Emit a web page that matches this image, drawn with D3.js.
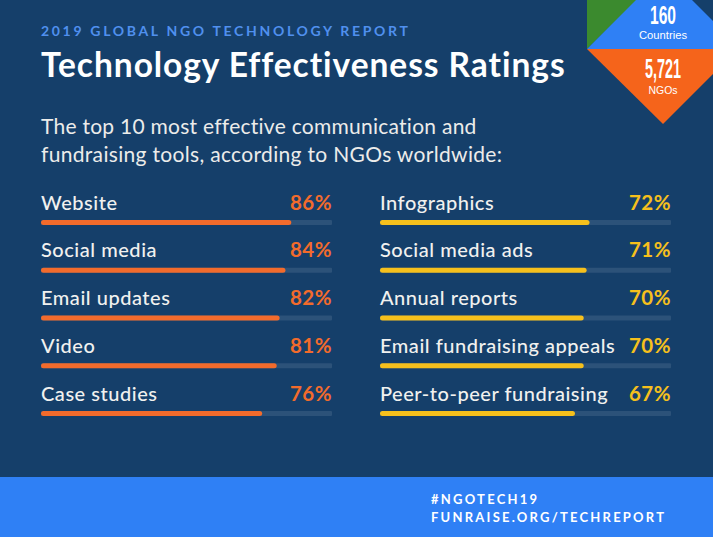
<!DOCTYPE html>
<html><head><meta charset="utf-8">
<script src="https://cdn.jsdelivr.net/npm/d3@7"></script>
<style>html,body{margin:0;padding:0;background:#153f6a}svg{display:block}text{font-family:Lato,sans-serif}</style>
</head><body><svg id="c" width="713" height="537"></svg>
<script>
const leftLabels=["Website","Social media","Email updates","Video","Case studies"];
const leftValues=[86,84,82,81,76];
const rightLabels=["Infographics","Social media ads","Annual reports","Email fundraising appeals","Peer-to-peer fundraising"];
const rightValues=[72,71,70,70,67];
const rowNames=[0,1,2,3,4];
const svg=d3.select("#c");
svg.append("rect").attr("width",713).attr("height",537).attr("fill","#153f6a");
const y=d3.scalePoint().domain(rowNames).range([222.5,413.5]);
function col(labels,values,x0,color,pctColor){
  const x=d3.scaleLinear().domain([0,100]).range([x0,x0+291]);
  const g=svg.append("g");
  rowNames.forEach(i=>{
    g.append("rect").attr("x",x(0)).attr("y",y(i)-2.5).attr("width",x(100)-x(0)).attr("height",5).attr("rx",1).attr("fill","#2c5279");
    g.append("rect").attr("x",x(0)).attr("y",y(i)-2.5).attr("width",x(values[i])-x(0)).attr("height",5).attr("rx",2.5).attr("fill",color);
    g.append("text").attr("x",x(0)).attr("y",y(i)-13).attr("font-size",20).attr("font-weight",500).attr("letter-spacing",0.53).attr("fill","#f1f1ef").text(labels[i]);
    g.append("text").attr("x",x(100)).attr("y",y(i)-13).attr("text-anchor","end").attr("font-size",20.5).attr("font-weight",700).attr("letter-spacing",0.5).attr("fill",pctColor).text(values[i]+"%");
  });
}
col(leftLabels,leftValues,41,"#f26b2c","#f26b2c");
col(rightLabels,rightValues,380,"#f6c01c","#f6c01c");
const t=(x,y,s,size,w,fill,ls)=>svg.append("text").attr("x",x).attr("y",y).attr("font-size",size).attr("font-weight",w).attr("fill",fill).attr("letter-spacing",ls).text(s);
t(41,36,"2019 GLOBAL NGO TECHNOLOGY REPORT",14,700,"#5090ee",2.68);
t(41,77,"Technology Effectiveness Ratings",33.5,700,"#fff",0.95);
t(41,134,"The top 10 most effective communication and",21,400,"#ececea",0.26);
t(41,162,"fundraising tools, according to NGOs worldwide:",21,400,"#ececea",0.32);
const line=d3.line();
const tri=(pts,c)=>svg.append("path").attr("d",line(pts)+"Z").attr("fill",c);
tri([[587,0],[637,0],[587,49]],"#3b8a2e");
tri([[587,49],[636,0],[692,0],[713,21],[713,49]],"#2f80f5");
tri([[587,49],[713,49],[713,74],[663,124]],"#f5641b");
const nar="'Liberation Sans Narrow','Liberation Sans'", sans="'Liberation Sans'";
const mid=(s,cx,yy,size,w,len,fam)=>svg.append("text").attr("x",cx).attr("y",yy).attr("text-anchor","middle").attr("font-size",size).attr("font-weight",w).attr("fill","#fff").attr("textLength",len).attr("lengthAdjust","spacingAndGlyphs").style("font-family",fam).text(s);
mid("160",663,23.6,26,700,26,nar);
mid("Countries",663,39,10.5,400,48,sans);
mid("5,721",663,78,27,700,36,nar);
mid("NGOs",663,93.5,10.5,400,29,sans);
svg.append("rect").attr("y",477).attr("width",713).attr("height",60).attr("fill","#2f80f5");
t(431,504,"#NGOTECH19",13,700,"#fff",2.23);
t(431,522,"FUNRAISE.ORG/TECHREPORT",13,700,"#fff",2.23);
</script></body></html>
